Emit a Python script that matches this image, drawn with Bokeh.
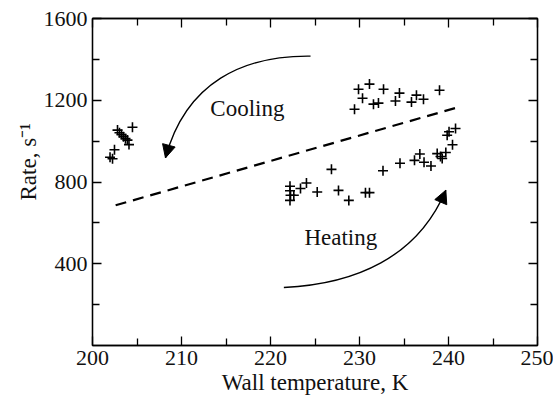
from bokeh.plotting import figure
from bokeh.models import (Range1d, FixedTicker, LinearAxis, Label, Arrow, Title,
                          NormalHead, ColumnDataSource)
from bokeh.embed import file_html
from bokeh.resources import INLINE

# ---- data ----
wall_T = [204.49, 202.81, 203.03, 203.26, 203.48, 203.71, 203.93, 204.10, 202.47, 201.97, 202.25,
          222.19, 222.19, 222.25, 222.19, 222.62, 223.37, 224.04, 225.25, 226.85, 227.64, 228.80, 230.67, 231.12,
          229.44, 229.89, 230.34, 231.12, 231.57, 232.13, 232.70, 234.04, 234.49, 235.84, 236.40, 237.19, 238.99,
          232.64, 234.55, 236.18, 236.78, 237.25, 238.03, 238.73, 239.10, 239.29, 239.70, 240.45, 239.85, 240.06, 240.79]
rate = [1068, 1054, 1041, 1032, 1022, 1012, 1005, 983, 958, 921, 914,
        779, 757, 735, 710, 735, 768, 795, 751, 862, 759, 710, 748, 748,
        1156, 1254, 1210, 1279, 1181, 1186, 1254, 1196, 1235, 1191, 1225, 1205, 1249,
        855, 892, 906, 937, 897, 878, 939, 925, 915, 944, 982, 1029, 1046, 1062]
trend_T = [202.6, 241.1]
trend_R = [686, 1166]
x_ticks = [200, 210, 220, 230, 240, 250]
x_minor = [205, 215, 225, 235, 245]
y_ticks = [400, 800, 1200, 1600]
y_minor = [200, 600, 1000, 1400]

FONT = "Liberation Serif"

p = figure(width=553, height=407, x_range=Range1d(200, 250), y_range=Range1d(0, 1600),
           output_backend="svg", toolbar_location=None,
           min_border_left=92, min_border_right=16, min_border_top=18, min_border_bottom=62,
           x_axis_label="Wall temperature, K")
p.grid.visible = False
p.background_fill_color = "white"
p.border_fill_color = "white"
p.outline_line_color = "black"
p.outline_line_width = 1.3

for ax, ticks, minor in ((p.xaxis[0], x_ticks, x_minor), (p.yaxis[0], y_ticks, y_minor)):
    ax.ticker = FixedTicker(ticks=ticks, minor_ticks=minor)
    ax.major_tick_in = 9
    ax.major_tick_out = 0
    ax.minor_tick_in = 7
    ax.minor_tick_out = 0
    ax.axis_line_width = 1.3
    ax.major_tick_line_width = 1.3
    ax.minor_tick_line_width = 1.3
    ax.major_label_text_font = FONT
    ax.major_label_text_font_size = "22px"
    ax.major_label_text_color = "#111111"
    ax.axis_label_text_font = FONT
    ax.axis_label_text_font_size = "23px"
    ax.axis_label_text_font_style = "normal"
    ax.axis_label_text_color = "#111111"
    ax.major_label_standoff = 5
p.xaxis[0].axis_label_standoff = 2
p.yaxis[0].major_label_orientation = "horizontal"

for loc, ticks, minor in (("above", x_ticks, x_minor), ("right", y_ticks, y_minor)):
    ax = LinearAxis(ticker=FixedTicker(ticks=ticks, minor_ticks=minor),
                    major_tick_in=9, major_tick_out=0, minor_tick_in=7, minor_tick_out=0,
                    major_label_overrides={t: "" for t in ticks}, major_label_standoff=0,
                    axis_line_width=1.3, major_tick_line_width=1.3, minor_tick_line_width=1.3)
    p.add_layout(ax, loc)

# y axis title, placed as in the reference (above the frame centre)
p.add_layout(Title(text="Rate, s\u207b\u00b9", align="left", offset=145,
                   text_font=FONT, text_font_size="23px", text_font_style="normal",
                   text_color="#111111", standoff=0), "left")

# trend line
p.line(trend_T, trend_R, line_color="black", line_width=2.2, line_dash="11 7")

# data points
src = ColumnDataSource(dict(T=wall_T, R=rate))
p.scatter("T", "R", source=src, marker="cross", size=10, line_color="black", line_width=1.6)

# curved arrows (annotations)
cool = dict(x0=224.5, y0=1416, cx0=217.0, cy0=1420, cx1=210.5, cy1=1290, x1=208.2, y1=918)
heat = dict(x0=221.5, y0=284, cx0=229.5, cy0=300, cx1=236.5, cy1=430, x1=239.7, y1=760)
for a in (cool, heat):
    p.bezier(x0=[a["x0"]], y0=[a["y0"]], x1=[a["x1"]], y1=[a["y1"]],
             cx0=[a["cx0"]], cy0=[a["cy0"]], cx1=[a["cx1"]], cy1=[a["cy1"]],
             line_color="black", line_width=1.4)
    p.add_layout(Arrow(x_start=a["cx1"], y_start=a["cy1"], x_end=a["x1"], y_end=a["y1"],
                       line_alpha=0,
                       end=NormalHead(size=13, fill_color="black", line_color="black", line_width=1)))

p.add_layout(Label(x=217.4, y=1161, text="Cooling", text_font=FONT, text_font_size="23px",
                   text_align="center", text_baseline="middle", text_color="#111111"))
p.add_layout(Label(x=227.9, y=529, text="Heating", text_font=FONT, text_font_size="23px",
                   text_align="center", text_baseline="middle", text_color="#111111"))

open("out.html", "w").write(file_html(p, INLINE))
